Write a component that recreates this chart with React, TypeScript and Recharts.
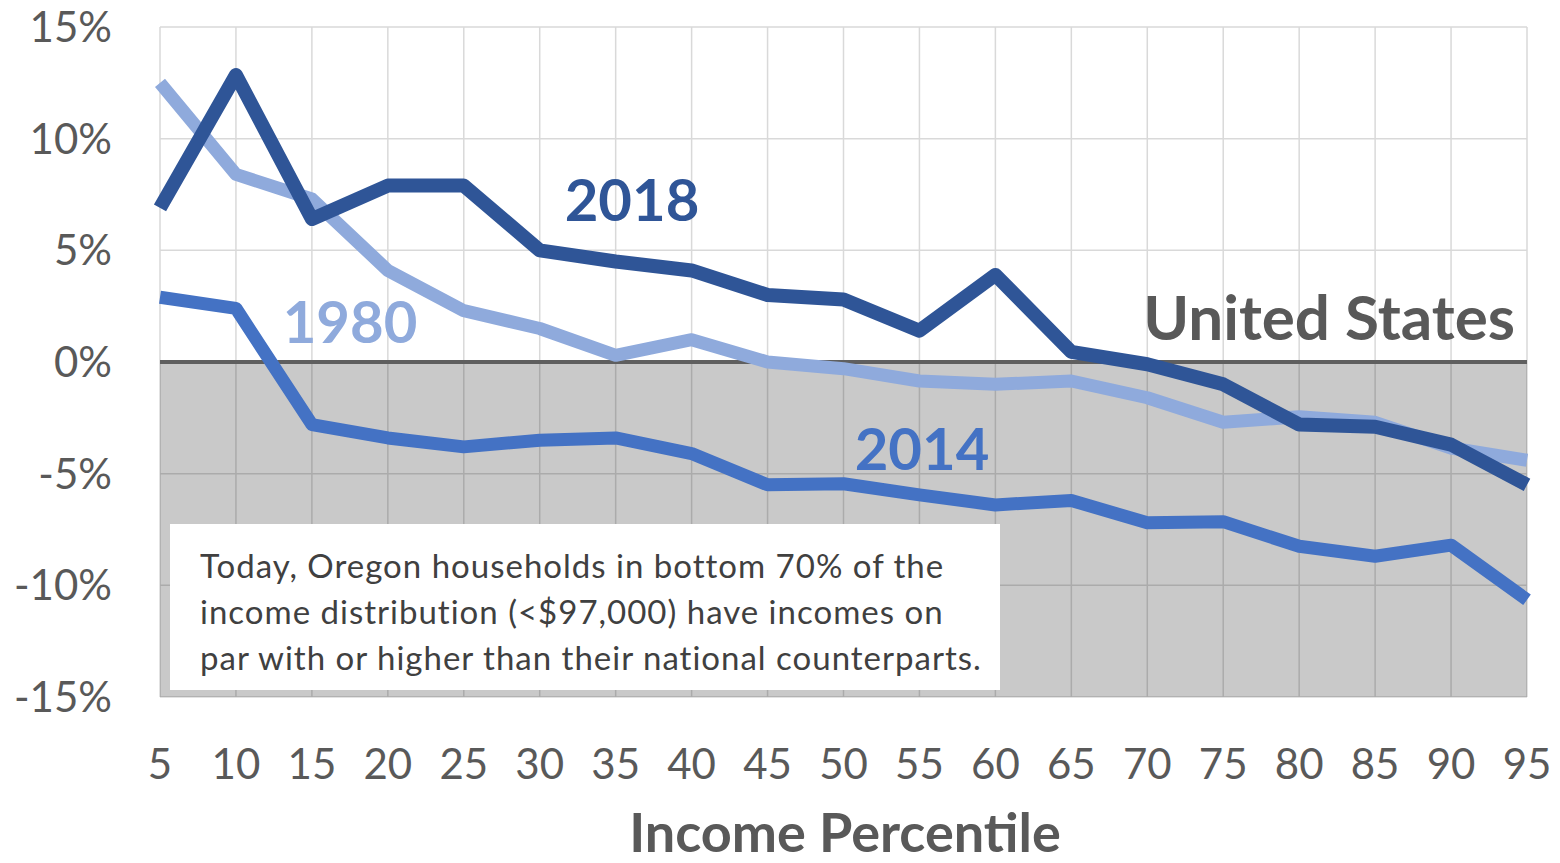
import React from "react";
import { LineChart, Line, XAxis, YAxis, CartesianGrid, ReferenceArea, ReferenceLine } from "recharts";

const percentiles = [5, 10, 15, 20, 25, 30, 35, 40, 45, 50, 55, 60, 65, 70, 75, 80, 85, 90, 95];
const values2018 = [6.9, 12.85, 6.4, 7.9, 7.9, 5.0, 4.5, 4.1, 3.0, 2.8, 1.4, 3.9, 0.45, -0.1, -1.0, -2.8, -2.9, -3.7, -5.5];
const values1980 = [12.5, 8.4, 7.3, 4.1, 2.3, 1.5, 0.3, 1.0, 0.0, -0.3, -0.85, -1.0, -0.85, -1.6, -2.7, -2.45, -2.7, -3.85, -4.4];
const values2014 = [2.9, 2.4, -2.8, -3.4, -3.8, -3.5, -3.4, -4.1, -5.5, -5.45, -5.95, -6.4, -6.2, -7.2, -7.15, -8.25, -8.7, -8.2, -10.65];
const yTicks = [-15, -10, -5, 0, 5, 10, 15];
const noteLines = [
  "Today, Oregon households in bottom 70% of the",
  "income distribution (<$97,000) have incomes on",
  "par with or higher than their national counterparts.",
];

const data = percentiles.map((p, i) => ({
  p,
  s2018: values2018[i],
  s1980: values1980[i],
  s2014: values2014[i],
}));

const FONT = "Lato, 'Open Sans', sans-serif";
const GRAY = "#595959";

export default function App() {
  return (
    <div style={{ position: "absolute", left: 0, top: 0, width: 1560, height: 863, background: "#fff", fontFamily: FONT }}>
      <LineChart width={1560} height={863} data={data} margin={{ top: 27, right: 33, bottom: 66, left: 10 }}>
        <CartesianGrid stroke="#D9D9D9" strokeWidth={1.5} />
        <ReferenceArea x1={5} x2={95} y1={-15} y2={0} fill="#000" fillOpacity={0.21} stroke="none" />
        <ReferenceLine y={0} stroke="#5F5F5F" strokeWidth={4} />
        <XAxis
          dataKey="p"
          type="number"
          domain={[5, 95]}
          ticks={percentiles}
          height={100}
          axisLine={false}
          tickLine={false}
          tickSize={0}
          tickMargin={52}
          tick={{ fill: GRAY, fontSize: 42, fontFamily: FONT }}
          interval={0}
        />
        <YAxis
          type="number"
          domain={[-15, 15]}
          ticks={yTicks}
          width={150}
          axisLine={false}
          tickLine={false}
          tickSize={0}
          tickMargin={48}
          tickFormatter={(v: number) => `${v}%`}
          tick={{ fill: GRAY, fontSize: 42, fontFamily: FONT }}
          interval={0}
        />
        <Line dataKey="s2014" stroke="#4472C4" strokeWidth={13} dot={false} isAnimationActive={false} strokeLinejoin="round" />
        <Line dataKey="s1980" stroke="#8FAADC" strokeWidth={13} dot={false} isAnimationActive={false} strokeLinejoin="round" />
        <Line dataKey="s2018" stroke="#2F5597" strokeWidth={14} dot={false} isAnimationActive={false} strokeLinejoin="round" />
      </LineChart>
      <svg width={1560} height={863} style={{ position: "absolute", left: 0, top: 0, pointerEvents: "none" }}>
        <text x={632} y={221} textAnchor="middle" fontFamily={FONT} fontWeight="bold" fontSize={58} fill="#2F5597">2018</text>
        <text x={350} y={343} textAnchor="middle" fontFamily={FONT} fontWeight="bold" fontSize={58} fill="#8FAADC">1980</text>
        <text x={922} y={470} textAnchor="middle" fontFamily={FONT} fontWeight="bold" fontSize={58} fill="#4472C4">2014</text>
        <text x={1515} y={340} textAnchor="end" fontFamily={FONT} fontWeight="bold" fontSize={62} fill={GRAY}>United States</text>
        <rect x={170} y={524} width={830} height={166} fill="#fff" />
        {noteLines.map((t, i) => (
          <text key={i} x={200} y={578 + i * 46} fontFamily={FONT} fontSize={33} letterSpacing={1.0} fill="#404040">{t}</text>
        ))}
        <text x={845} y={852} textAnchor="middle" fontFamily={FONT} fontWeight="bold" fontSize={54} fill={GRAY}>Income Percentile</text>
      </svg>
    </div>
  );
}
